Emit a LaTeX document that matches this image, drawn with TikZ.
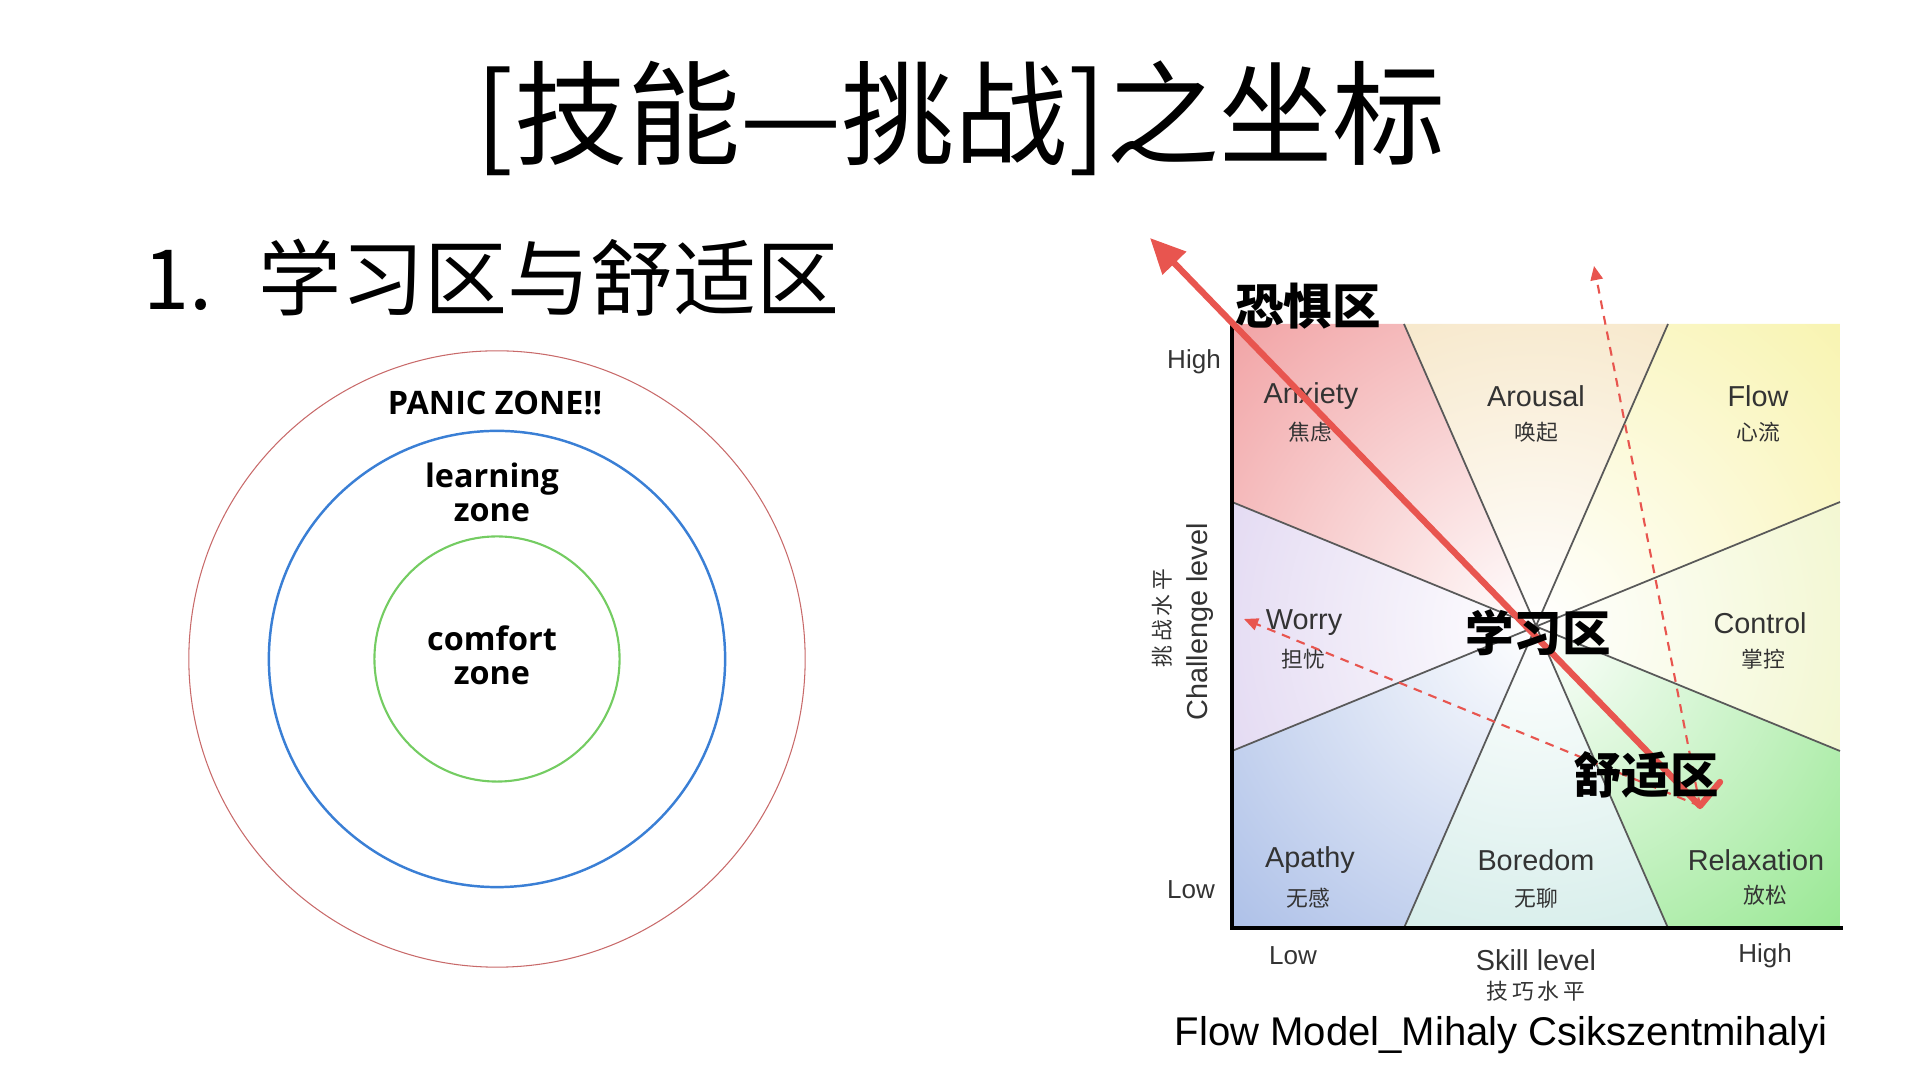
\documentclass[tikz,border=0pt]{standalone}
\usepackage{fontspec}
\setmainfont{Liberation Sans}
\newfontfamily\cjk{Noto Sans CJK SC}
\newfontfamily\zonefont{Open Sans}
\usetikzlibrary{arrows.meta}

\definecolor{panicred}{HTML}{C86A6A}
\definecolor{learnblue}{HTML}{3A7FD5}
\definecolor{comfgreen}{HTML}{74CC62}
\definecolor{markred}{HTML}{E8554F}
\definecolor{lblgray}{HTML}{333333}
\definecolor{anxc}{HTML}{EF9496}
\definecolor{arouc}{HTML}{F3DDB2}
\definecolor{flowc}{HTML}{F7F2A4}
\definecolor{ctrlc}{HTML}{ECF3BA}
\definecolor{relc}{HTML}{88E482}
\definecolor{borc}{HTML}{C2E5E0}
\definecolor{apac}{HTML}{A0B6E4}
\definecolor{worc}{HTML}{D6C8EC}

\begin{document}
\begin{tikzpicture}[x=0.01cm, y=-0.01cm,
	zonelbl/.style={font=\zonefont\bfseries\fontsize{9.2}{9.6}\selectfont, align=center},
	flowlbl/.style={font=\fontsize{8.2}{9}\selectfont, text=lblgray},
	flowsub/.style={font=\cjk\fontsize{6.2}{6.5}\selectfont, text=lblgray},
	axislbl/.style={font=\fontsize{7.4}{8}\selectfont, text=lblgray},
	bigcn/.style={font=\cjk\bfseries\fontsize{13.8}{14}\selectfont},
	divline/.style={draw=black!65, line width=0.5pt},
	axisline/.style={line width=1pt},
	thickred/.style={draw=markred, line width=1.8pt, line cap=round, line join=round},
	dashred/.style={draw=markred, line width=0.6pt, dash pattern=on 2.5pt off 2pt, -{Triangle[length=4pt,width=3.5pt]}}]
	\useasboundingbox (0,0) rectangle (1920,1080);
	
	% titles
	\node[font=\cjk\fontsize{32.2}{33}\selectfont] (title) at (961,118) {[技能—挑战]之坐标};
	\node[font=\cjk\fontsize{23.6}{25}\selectfont, anchor=west] (sub) at (131,278) {1.\hspace{0.55em}学习区与舒适区};
	
	% zones
	\coordinate (zc) at (497,659);
	\draw[panicred, line width=0.3pt] (zc) circle[radius=3.08cm];
	\draw[learnblue, line width=0.7pt] (zc) circle[radius=2.28cm];
	\draw[comfgreen, line width=0.6pt] (zc) circle[radius=1.225cm];
	\node[zonelbl] (panic) at (495,403) {PANIC ZONE!!};
	\node[zonelbl] (learn) at (492,492) {learning\\zone};
	\node[zonelbl] (comf) at (492,655) {comfort\\zone};
	
	% flow model
	\coordinate (c) at (1536,626);
	\coordinate (tl) at (1232,324); \coordinate (tr) at (1840,324);
	\coordinate (bl) at (1232,928); \coordinate (br) at (1840,928);
	\coordinate (t1) at (1404,324); \coordinate (t2) at (1668,324);
	\coordinate (b1) at (1404,928); \coordinate (b2) at (1668,928);
	\coordinate (l1) at (1232,502); \coordinate (l2) at (1232,751);
	\coordinate (r1) at (1840,502); \coordinate (r2) at (1840,751);
	\coordinate (xend) at (1843,928);
	\foreach \p/\q/\r/\col in {l1/tl/t1/anxc, t1/t1/t2/arouc, t2/tr/r1/flowc, r1/r1/r2/ctrlc,
		r2/br/b2/relc, b2/b2/b1/borc, b1/bl/l2/apac, l2/l2/l1/worc}{
		\begin{scope}
			\clip (c) -- (\p) -- (\q) -- (\r) -- cycle;
			\shade[inner color=white, outer color=\col] (c) circle[radius=5cm];
		\end{scope}
	}
	\draw[divline] (t1) -- (b2) (t2) -- (b1) (l1) -- (r2) (l2) -- (r1);
	\draw[axisline] (tl) -- (bl) -- (xend);
	
	\node[flowlbl] (anx) at (1311,396) {Anxiety};
	\node[flowsub] (anxcn) at (1310,432) {焦虑};
	\node[flowlbl] (arou) at (1536,396) {Arousal};
	\node[flowsub] (aroucn) at (1536,432) {唤起};
	\node[flowlbl] (flow) at (1758,396) {Flow};
	\node[flowsub] (flowcn) at (1758,432) {心流};
	\node[flowlbl] (wor) at (1304,623) {Worry};
	\node[flowsub] (worcn) at (1303,659) {担忧};
	\node[flowlbl] (ctrl) at (1760,623) {Control};
	\node[flowsub] (ctrlcn) at (1763,659) {掌控};
	\node[flowlbl] (apa) at (1310,860) {Apathy};
	\node[flowsub] (apacn) at (1308,898) {无感};
	\node[flowlbl] (bor) at (1536,860) {Boredom};
	\node[flowsub] (borcn) at (1536,898) {无聊};
	\node[flowlbl] (rel) at (1756,860) {Relaxation};
	\node[flowsub] (relcn) at (1765,895) {放松};
	
	\node[axislbl] (yhigh) at (1194,362) {High};
	\node[axislbl] (ylow) at (1191,890) {Low};
	\node[axislbl] (xlow) at (1293,956) {Low};
	\node[axislbl] (xhigh) at (1765,956) {High};
	\node[flowlbl] (skill) at (1536,960) {Skill level};
	\node[flowsub] (skillcn) at (1536,991) {技\,巧\,水\,平};
	\node[flowlbl, rotate=90] (chal) at (1200,622) {Challenge level};
	\node[flowsub, rotate=90] (chalcn) at (1162,618) {挑\,战\,水\,平};
	\node[font=\fontsize{11.4}{12}\selectfont] (caption) at (1501,1035) {Flow Model\_Mihaly Csikszentmihalyi};
	
	% marks
	\coordinate (comfortpt) at (1700,806);
	\coordinate (hookpt) at (1720,782);
	\coordinate (fearpt) at (1150,238);
	\coordinate (aroupt) at (1594,266);
	\coordinate (worpt) at (1244,619);
	\draw[dashred] (comfortpt) -- (aroupt);
	\draw[dashred] (comfortpt) -- (worpt);
	\draw[thickred, -{Triangle[length=10pt,width=9pt]}] (hookpt) -- (comfortpt) -- (fearpt);
	\node[bigcn] (fear) at (1308,306) {恐惧区};
	\node[bigcn] (study) at (1538,633) {学习区};
	\node[bigcn] (comfort) at (1646,775) {舒适区};
\end{tikzpicture}
\end{document}
